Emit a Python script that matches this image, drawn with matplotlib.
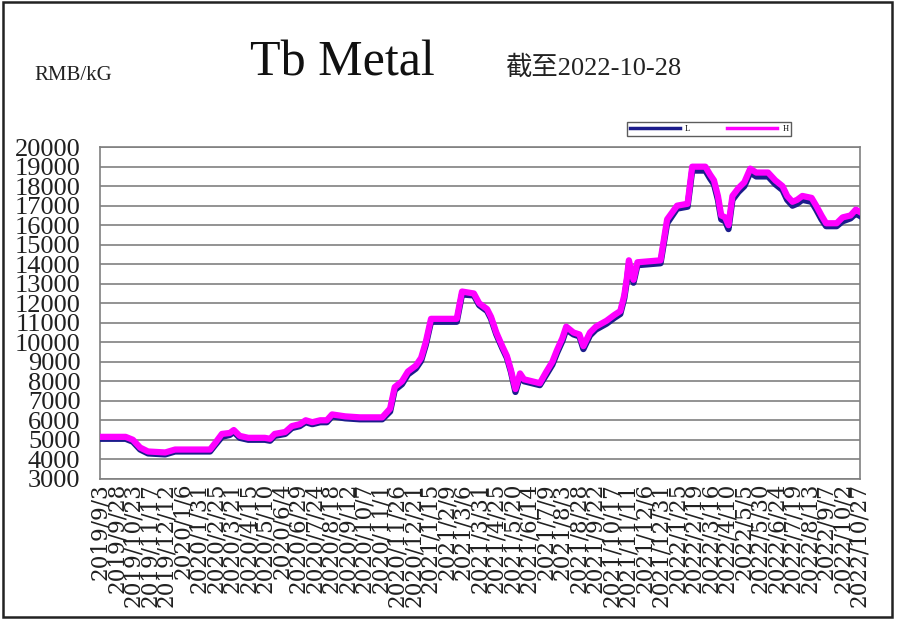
import matplotlib
matplotlib.use("Agg")
from matplotlib import pyplot as plt
from matplotlib.patches import Rectangle
import pandas as pd

# price points (RMB/kG)
dates = ["2019-09-03", "2019-10-11", "2019-10-22", "2019-11-02", "2019-11-14", "2019-12-10",
         "2019-12-25", "2020-02-16", "2020-02-23", "2020-03-05", "2020-03-17", "2020-03-23",
         "2020-04-01", "2020-04-14", "2020-05-09", "2020-05-17", "2020-05-24", "2020-06-09",
         "2020-06-19", "2020-07-01", "2020-07-10", "2020-07-20", "2020-08-01", "2020-08-11",
         "2020-08-19", "2020-09-08", "2020-09-30", "2020-11-03", "2020-11-15", "2020-11-22",
         "2020-12-03", "2020-12-12", "2020-12-24", "2021-01-01", "2021-01-08", "2021-01-16",
         "2021-02-24", "2021-03-04", "2021-03-22", "2021-03-30", "2021-04-11", "2021-04-17",
         "2021-04-25", "2021-05-04", "2021-05-11", "2021-05-17", "2021-05-24", "2021-05-31",
         "2021-06-06", "2021-06-18", "2021-06-30", "2021-07-10", "2021-07-19", "2021-07-26",
         "2021-08-03", "2021-08-09", "2021-08-20", "2021-08-29", "2021-09-04", "2021-09-14",
         "2021-09-23", "2021-10-09", "2021-10-21", "2021-10-30", "2021-11-05", "2021-11-09",
         "2021-11-12", "2021-11-19", "2021-11-25", "2021-12-30", "2022-01-09", "2022-01-24",
         "2022-02-09", "2022-02-16", "2022-03-08", "2022-03-15", "2022-03-21", "2022-03-27",
         "2022-04-01", "2022-04-07", "2022-04-12", "2022-04-18", "2022-04-27", "2022-05-06",
         "2022-05-15", "2022-05-24", "2022-06-11", "2022-06-22", "2022-07-03", "2022-07-10",
         "2022-07-18", "2022-07-25", "2022-08-02", "2022-08-16", "2022-08-23", "2022-08-31",
         "2022-09-07", "2022-09-23", "2022-10-02", "2022-10-14", "2022-10-22", "2022-10-27"]

H = [5150, 5150, 5000, 4600, 4400, 4350,
     4500, 4500, 4800, 5300, 5350, 5500,
     5200, 5100, 5100, 5050, 5300, 5400,
     5700, 5800, 6000, 5900, 6000, 6000,
     6300, 6200, 6150, 6150, 6600, 7700,
     8000, 8500, 8800, 9200, 10000, 11200,
     11200, 12600, 12500, 12000, 11700, 11300,
     10500, 9800, 9300, 8600, 7600, 8400,
     8100, 8000, 7900, 8500, 9000, 9600,
     10200, 10800, 10500, 10400, 9800, 10500,
     10800, 11100, 11400, 11600, 12400, 13300,
     14200, 13200, 14100, 14200, 16300, 17000,
     17100, 19000, 19000, 18600, 18300, 17500,
     16500, 16400, 16000, 17500, 17900, 18200,
     18900, 18700, 18700, 18300, 18000, 17500,
     17200, 17300, 17500, 17400, 17000, 16500,
     16100, 16100, 16400, 16500, 16800, 16700]

L = [5050, 5050, 4900, 4500, 4300, 4250,
     4400, 4400, 4700, 5150, 5250, 5400,
     5100, 5000, 5000, 4950, 5200, 5300,
     5600, 5700, 5900, 5800, 5900, 5900,
     6200, 6100, 6050, 6050, 6450, 7550,
     7850, 8350, 8650, 9050, 9850, 11050,
     11050, 12450, 12400, 11900, 11600, 11200,
     10400, 9700, 9200, 8500, 7450, 8250,
     8000, 7900, 7800, 8350, 8850, 9450,
     10050, 10650, 10400, 10300, 9650, 10350,
     10650, 10950, 11250, 11450, 12250, 13150,
     14000, 13050, 13950, 14050, 16100, 16850,
     16950, 18800, 18800, 18400, 18100, 17300,
     16300, 16200, 15800, 17300, 17700, 18000,
     18700, 18500, 18500, 18100, 17800, 17300,
     17000, 17100, 17300, 17200, 16800, 16300,
     15950, 15950, 16200, 16350, 16600, 16500]

tick_labels = ["2019/9/3", "2019/9/28", "2019/10/23", "2019/11/17", "2019/12/12",
               "2020/1/6", "2020/1/31", "2020/2/25", "2020/3/21", "2020/4/15",
               "2020/5/10", "2020/6/4", "2020/6/29", "2020/7/24", "2020/8/18",
               "2020/9/12", "2020/10/7", "2020/11/1", "2020/11/26", "2020/12/21",
               "2021/1/15", "2021/2/9", "2021/3/6", "2021/3/31", "2021/4/25",
               "2021/5/20", "2021/6/14", "2021/7/9", "2021/8/3", "2021/8/28",
               "2021/9/22", "2021/10/17", "2021/11/11", "2021/12/6", "2021/12/31",
               "2022/1/25", "2022/2/19", "2022/3/16", "2022/4/10", "2022/5/5",
               "2022/5/30", "2022/6/24", "2022/7/19", "2022/8/13", "2022/9/7",
               "2022/10/2", "2022/10/27"]

y_ticks = list(range(3000, 20001, 1000))

serif = ["Liberation Serif", "Noto Sans CJK SC", "DejaVu Sans"]
plt.rcParams["font.family"] = serif

x = pd.to_datetime(dates)
tick_pos = pd.to_datetime(tick_labels, format="%Y/%m/%d")

fig = plt.figure(figsize=(9, 6.21), dpi=100)
ax = fig.add_axes([0.111, 0.229, 0.845, 0.534])

for yv in y_ticks:
    ax.axhline(yv, color="#808080", linewidth=1.2, zorder=1)

ax.plot(x, L, color="#1c1c8c", linewidth=4.5, label="L", zorder=3, solid_joinstyle="round")
ax.plot(x, H, color="#ff00ff", linewidth=4.5, label="H", zorder=4, solid_joinstyle="round")

ax.set_ylim(3000, 20000)
ax.set_xlim(pd.Timestamp("2019-09-02"), pd.Timestamp("2022-10-29"))
ax.set_yticks(y_ticks)
ax.set_yticklabels([str(v) for v in y_ticks], fontsize=19, color="#202020")
ax.set_xticks(tick_pos)
ax.set_xticklabels(tick_labels, rotation=90, fontsize=15.5, color="#202020",
                   family=["DejaVu Serif"])
ax.tick_params(axis="y", length=0, pad=14)
ax.tick_params(axis="x", length=0, pad=3)
for s in ax.spines.values():
    s.set_color("#808080")
    s.set_linewidth(1.2)

fig.text(0.278, 0.879, "Tb Metal", fontsize=36, family=serif, color="#111111")
fig.text(0.561, 0.879, "截至2022-10-28", fontsize=19, family=serif, color="#222222")
fig.text(0.038, 0.871, "RMB/kG", fontsize=15, family=serif, color="#222222")

leg = fig.legend(loc="center", bbox_to_anchor=(0.788, 0.792), ncol=2, fontsize=6,
                 frameon=True, fancybox=False, handlelength=6, columnspacing=4.5,
                 borderpad=0.35, handletextpad=0.6)
leg.get_frame().set_edgecolor("#333333")
leg.get_frame().set_linewidth(1.0)
for ln in leg.get_lines():
    ln.set_linewidth(2.5)

# outer frame
fig.patches.append(Rectangle((0.003, 0.006), 0.988, 0.99, transform=fig.transFigure,
                             fill=False, edgecolor="#222222", linewidth=1.8))

fig.savefig("out.png", dpi=100)
